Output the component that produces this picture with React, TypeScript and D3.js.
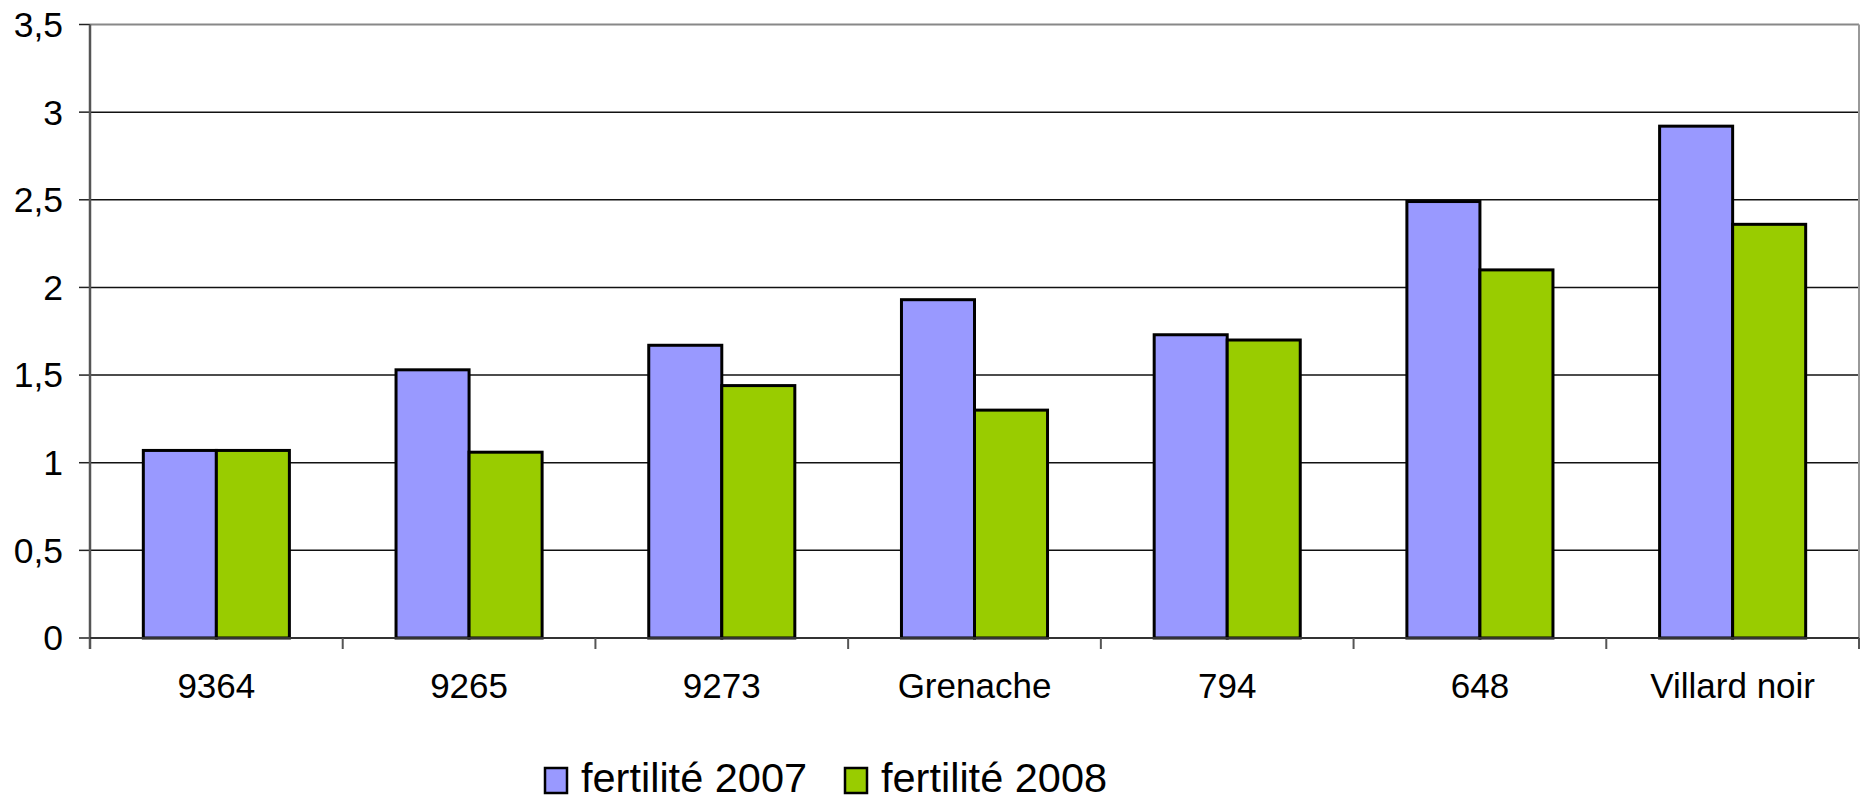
import React from "react";
import * as d3 from "d3";

const categories = ["9364", "9265", "9273", "Grenache", "794", "648", "Villard noir"];
const fert2007 = [1.07, 1.53, 1.67, 1.93, 1.73, 2.49, 2.92];
const fert2008 = [1.07, 1.06, 1.44, 1.30, 1.70, 2.10, 2.36];
const seriesNames = ["fertilité 2007", "fertilité 2008"];
const seriesColors = ["#9999FF", "#99CC00"];
const yTicks = [0, 0.5, 1, 1.5, 2, 2.5, 3, 3.5];

const W = 1860;
const H = 801;
const m = { left: 90, right: 1859, top: 24.5, bottom: 638 };
const FONT = "'Liberation Sans', Arial, Helvetica, sans-serif";

export default function App() {
  const x = d3.scaleBand<string>().domain(categories).range([m.left, m.right]).paddingInner(0).paddingOuter(0);
  const y = d3.scaleLinear().domain([0, 3.5]).range([m.bottom, m.top]);
  const bw = x.bandwidth();
  const barW = bw * 0.289;
  const series = [fert2007, fert2008];
  const fmt = (v: number) => String(v).replace(".", ",");

  return (
    <svg width={W} height={H} style={{ position: "absolute", left: 0, top: 0, background: "#fff" }}>
      <rect x={0} y={0} width={W} height={H} fill="#fff" />
      {yTicks.slice(1, -1).map((t) => (
        <line key={"g" + t} x1={m.left} x2={m.right} y1={y(t)} y2={y(t)} stroke="#111" strokeWidth={1.5} />
      ))}
      <line x1={m.left} x2={m.right} y1={y(3.5)} y2={y(3.5)} stroke="#888" strokeWidth={2} />
      <line x1={m.right} x2={m.right} y1={m.top} y2={m.bottom} stroke="#999" strokeWidth={2} />
      {yTicks.map((t) => (
        <g key={"y" + t}>
          <line x1={79} x2={m.left} y1={y(t)} y2={y(t)} stroke="#222" strokeWidth={1.5} />
          <text x={63} y={y(t)} dy="0.35em" textAnchor="end" fontFamily={FONT} fontSize={35.5} fill="#000">
            {fmt(t)}
          </text>
        </g>
      ))}
      {categories.map((c, i) => {
        const cx = (x(c) as number) + bw / 2;
        return series.map((s, j) => (
          <rect
            key={c + j}
            x={cx - barW + j * barW}
            y={y(s[i])}
            width={barW}
            height={y(0) - y(s[i])}
            fill={seriesColors[j]}
            stroke="#000"
            strokeWidth={3}
          />
        ));
      })}
      <line x1={m.left} x2={m.left} y1={m.top} y2={m.bottom + 11} stroke="#555" strokeWidth={2.5} />
      <line x1={m.left} x2={m.right} y1={m.bottom} y2={m.bottom} stroke="#333" strokeWidth={2} />
      {categories.map((c, i) => (
        <line key={"xt" + i} x1={(x(c) as number) + bw} x2={(x(c) as number) + bw} y1={m.bottom} y2={m.bottom + 11} stroke="#555" strokeWidth={2} />
      ))}
      {categories.map((c) => (
        <text key={"xl" + c} x={(x(c) as number) + bw / 2} y={698} textAnchor="middle" fontFamily={FONT} fontSize={35} fill="#000">
          {c}
        </text>
      ))}
      {seriesNames.map((n, j) => {
        const lx = [545, 845][j];
        return (
          <g key={n}>
            <rect x={lx} y={768} width={22} height={25} fill={seriesColors[j]} stroke="#000" strokeWidth={2.5} />
            <text x={lx + 36} y={792} fontFamily={FONT} fontSize={41.5} fill="#000">
              {n}
            </text>
          </g>
        );
      })}
    </svg>
  );
}
